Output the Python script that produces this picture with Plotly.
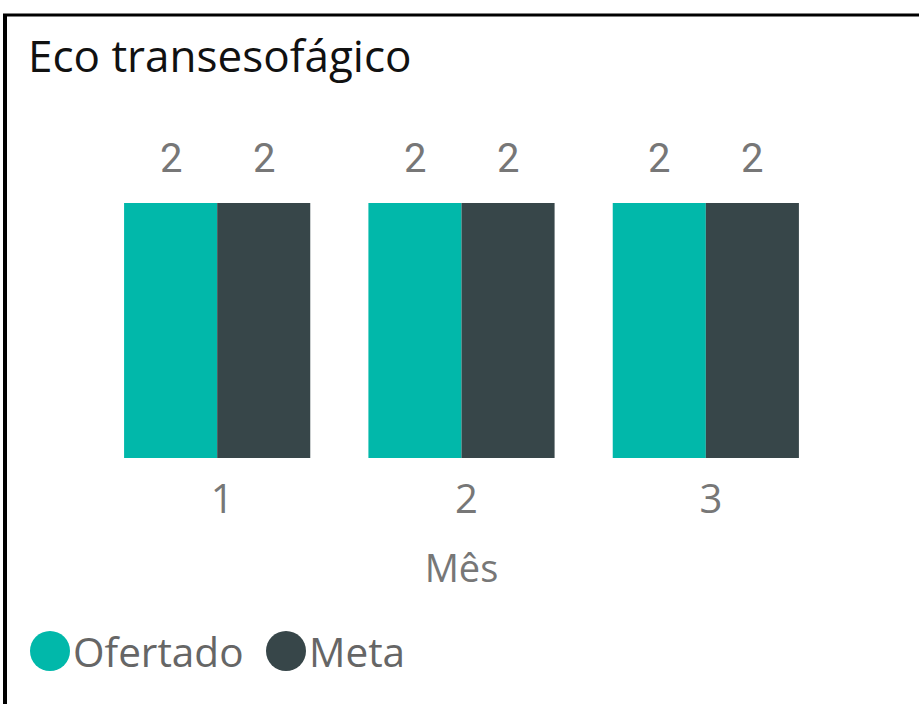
import plotly.graph_objects as go

# ---- data ----
meses = [1, 2, 3]
mes_labels = ["1", "2", "3"]
ofertado = [2, 2, 2]
meta = [2, 2, 2]
series_names = ["Ofertado", "Meta"]
series_colors = ["#01B8AA", "#374649"]
title_text = "Eco transesofágico"
x_title = "Mês"

W, H = 919, 704
ml, mr, mt, mb = 95, 91, 203, 246
bargap = 0.238
plot_w = W - ml - mr
cat_px = plot_w / len(meses)
bar_px = cat_px * (1 - bargap) / 2

FONT = "Open Sans"
GREY = "#777777"

fig = go.Figure()
for name, vals, col in zip(series_names, [ofertado, meta], series_colors):
    fig.add_trace(go.Bar(x=meses, y=vals, name=name, marker_color=col,
                         marker_line_width=0, showlegend=False))

# data labels
ann = []
for si, vals in enumerate([ofertado, meta]):
    shift = (-0.5 if si == 0 else 0.5) * bar_px
    for m, v in zip(meses, vals):
        ann.append(dict(x=m, y=v, xref="x", yref="y", text=str(v), showarrow=False,
                        xshift=shift, yshift=45, yanchor="middle",
                        font=dict(family="Roboto", size=40, color=GREY)))

# legend drawn manually (circle + text)
def px_x(p):
    return (p - ml) / plot_w
def px_y(p):
    return 1 - (p - mt) / (H - mt - mb)

shapes = []
leg_y = 651
leg_items = [(50, 71), (286, 307)]
for (cx, tx), name, col in zip(leg_items, series_names, series_colors):
    r = 20
    shapes.append(dict(type="circle", xref="paper", yref="paper",
                       x0=px_x(cx - r), x1=px_x(cx + r), y0=px_y(leg_y + r), y1=px_y(leg_y - r),
                       fillcolor=col, line_width=0))
    ann.append(dict(x=px_x(tx), y=px_y(leg_y), xref="paper", yref="paper", text=name,
                    showarrow=False, xanchor="left", yanchor="middle",
                    font=dict(family=FONT, size=40.5, color="#666666")))

# frame lines (top and left)
shapes.append(dict(type="line", xref="paper", yref="paper", x0=px_x(3), x1=px_x(W + 5),
                   y0=px_y(15), y1=px_y(15), line=dict(color="black", width=3)))
shapes.append(dict(type="line", xref="paper", yref="paper", x0=px_x(5), x1=px_x(5),
                   y0=px_y(14), y1=px_y(H + 5), line=dict(color="black", width=4)))

fig.update_layout(
    width=W, height=H,
    margin=dict(l=ml, r=mr, t=mt, b=mb),
    paper_bgcolor="white", plot_bgcolor="white",
    barmode="group", bargap=bargap, bargroupgap=0,
    title=dict(text=title_text, x=28 / W, xanchor="left", xref="container",
               y=1 - 57 / H, yanchor="middle", yref="container",
               font=dict(family=FONT, size=44, color="#111111")),
    xaxis=dict(range=[0.5, 3.5], tickmode="array", tickvals=meses, ticktext=mes_labels,
               showgrid=False, zeroline=False, showline=False, ticks="",
               ticklabelstandoff=14, ticklabelshift=5,
               tickfont=dict(family=FONT, size=40, color=GREY),
               title=dict(text=x_title, font=dict(family=FONT, size=38, color=GREY), standoff=31)),
    yaxis=dict(range=[0, 2], visible=False, showgrid=False, zeroline=False),
    annotations=ann, shapes=shapes,
)

fig.write_html("out.html", config={"displayModeBar": False},
               post_script="document.body.style.margin='0';document.body.style.overflow='hidden';")
